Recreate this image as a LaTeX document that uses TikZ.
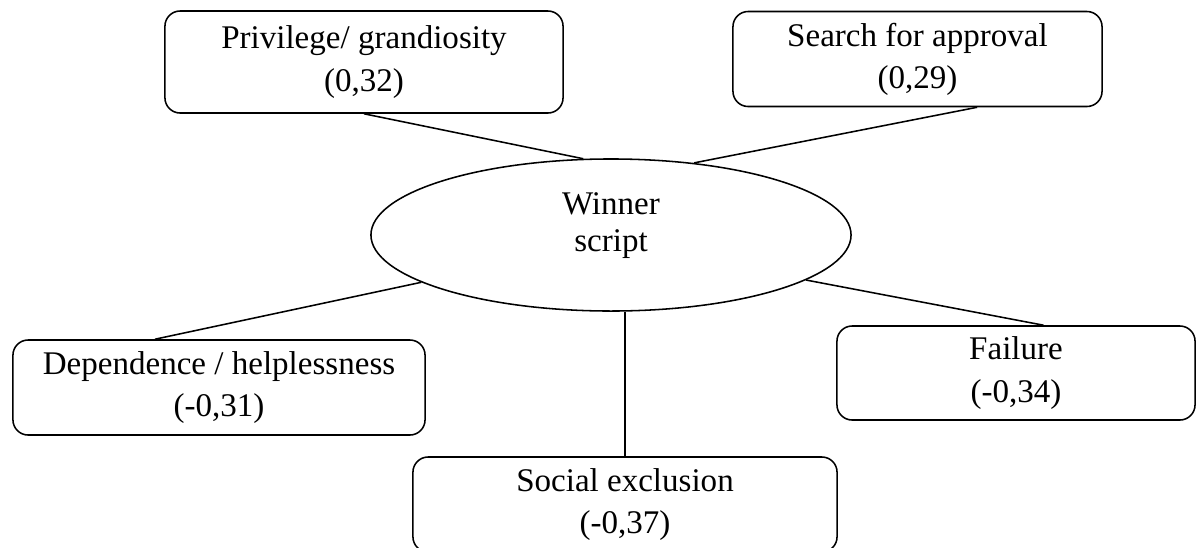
\documentclass[tikz,border=0pt]{standalone}
\usepackage{fontspec}
\setmainfont{Liberation Serif}
\usetikzlibrary{shapes.geometric,positioning}

\begin{document}
\begin{tikzpicture}[x=0.025cm, y=-0.025cm,
    scripttxt/.style={font=\fontsize{23.5}{30}\selectfont, align=center},
    factorbox/.style={draw, scripttxt, rounded corners=0.38cm, line width=1.1pt, inner sep=0pt},
    link/.style={line width=1.1pt}]
    \useasboundingbox (0,0) rectangle (1197,547);

    % centre
    \node[ellipse, draw, scripttxt, font=\fontsize{23.5}{26.5}\selectfont, line width=1.1pt,
          minimum width=12cm, minimum height=3.8cm, text depth=18.5pt] (win) at (611,235) {Winner\\script};

    % factors
    \node[factorbox, minimum width=9.95cm, minimum height=2.55cm] (priv) at (364,62) {Privilege/ grandiosity\\(0,32)};
    \node[factorbox, minimum width=9.225cm, minimum height=2.375cm] (search) at (917.5,59) {Search for approval\\(0,29)};
    \node[factorbox, minimum width=10.3cm, minimum height=2.375cm] (dep) at (219,387.5) {Dependence / helplessness\\(-0,31)};
    \node[factorbox, minimum width=8.95cm, minimum height=2.35cm] (fail) at (1016,373) {Failure\\(-0,34)};
    \node[factorbox, minimum width=10.6cm, minimum height=2.375cm] (soc) at (625,504.5) {Social exclusion\\(-0,37)};

    \draw[link] (priv.south) -- (win.110);
    \draw[link] (search.-39) -- (win.41);
    \draw[link] (win.194) -- (dep.143);
    \draw[link] (win.-13.5) -- (fail.60);
    \draw[link] (win.south -| soc.north) -- (soc.north);
\end{tikzpicture}
\end{document}
